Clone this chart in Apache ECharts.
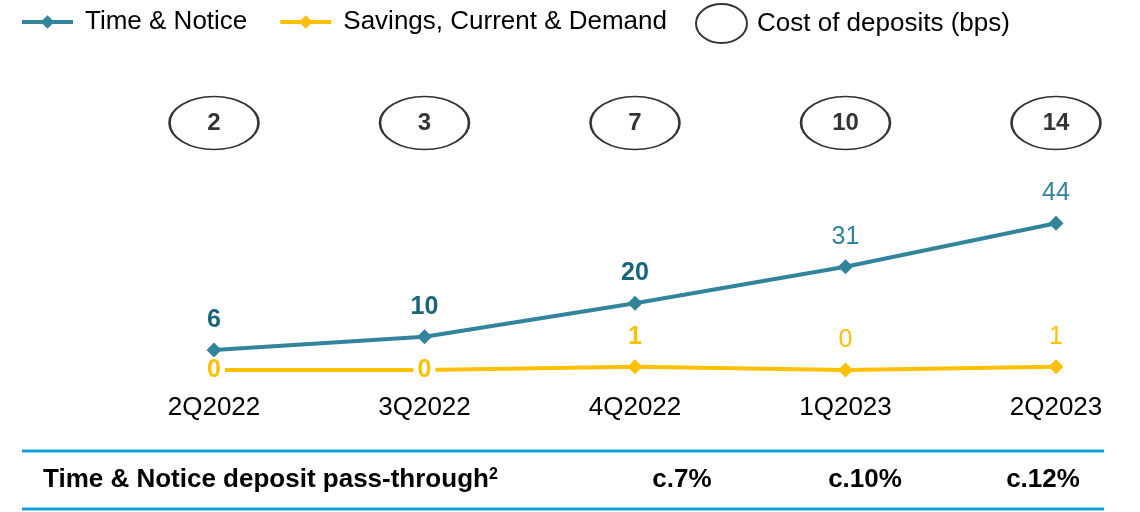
<!DOCTYPE html>
<html>
<head>
<meta charset="utf-8">
<script src="https://cdn.jsdelivr.net/npm/echarts@6/dist/echarts.min.js"></script>
<style>
  html, body { margin: 0; padding: 0; background: #fff; }
  #d_chart { width: 1140px; height: 512px; }
</style>
</head>
<body>
<div id="d_chart"></div>
<script>
// data
var quarters = ['2Q2022', '3Q2022', '4Q2022', '1Q2023', '2Q2023']
var timeNotice = [6, 10, 20, 31, 44]
var savingsCurrent = [0, 0, 1, 0, 1]
var costOfDeposits = [2, 3, 7, 10, 14]
var passThroughLabels = ['c.7%', 'c.10%', 'c.12%']

var FONT = '"Liberation Sans", Arial, sans-serif'
var TEAL = '#31849B'
var TEAL_DARK = '#17657A'
var YELLOW = '#FFC000'
var RULE = '#12A0D7'

var chart = echarts.init(document.getElementById('d_chart'))

// first three labels bold + dark, the later ones plain
var tnData = timeNotice.map(function (v, i) {
  return {
    value: v,
    label: i < 3 ? { fontWeight: 'bold', color: TEAL_DARK } : { fontWeight: 'normal', color: TEAL }
  }
})

var scData = savingsCurrent.map(function (v, i) {
  if (i < 2) {
    // label sits on the point, white box hides the marker
    return { value: v, label: { position: 'inside', fontWeight: 'bold', backgroundColor: '#fff', padding: [0, 4] } }
  }
  return { value: v, label: { position: 'top', fontWeight: i === 2 ? 'bold' : 'normal' } }
})

var costData = costOfDeposits.map(function (v, i) {
  return [i, 0, v]
})

// table row under the chart
var passX = [682, 865, 1043]
var tableGraphics = [
  { type: 'line', shape: { x1: 22, y1: 451, x2: 1104, y2: 451 }, style: { stroke: RULE, lineWidth: 3 } },
  { type: 'line', shape: { x1: 22, y1: 509, x2: 1104, y2: 509 }, style: { stroke: RULE, lineWidth: 3 } },
  {
    type: 'text', x: 43, y: 480,
    style: {
      text: 'Time & Notice deposit pass-through{s|2}',
      fontSize: 26, fontWeight: 'bold', fontFamily: FONT, fill: '#000',
      verticalAlign: 'middle',
      rich: { s: { fontSize: 16, fontWeight: 'bold', fontFamily: FONT, fill: '#000', verticalAlign: 'top' } }
    }
  }
]
passThroughLabels.forEach(function (t, i) {
  tableGraphics.push({
    type: 'text', x: passX[i], y: 480,
    style: { text: t, fontSize: 26, fontWeight: 'bold', fontFamily: FONT, fill: '#000', align: 'center', verticalAlign: 'middle' }
  })
})

var option = {
  animation: false,
  textStyle: { fontFamily: FONT },
  legend: [{
    left: 20,
    top: 9,
    padding: 0,
    itemWidth: 51,
    itemHeight: 17,
    itemGap: 31,
    data: ['Time & Notice', 'Savings, Current & Demand'],
    lineStyle: { width: 4 },
    textStyle: { fontSize: 26, color: '#000', padding: [0, 0, 0, 7] }
  }, {
    left: 695,
    top: 3,
    padding: 0,
    itemWidth: 51,
    itemHeight: 39,
    symbolKeepAspect: false,
    data: [{
      name: 'Cost of deposits (bps)',
      icon: 'path://M0,19.5 A25.5,19.5 0 1,1 51,19.5 A25.5,19.5 0 1,1 0,19.5 Z'
    }],
    textStyle: { fontSize: 26, color: '#000', padding: [0, 0, 0, 5] }
  }],
  grid: [
    { left: 214, right: 84, top: 170, height: 200 },
    { left: 214, right: 84, top: 97, height: 52 }
  ],
  xAxis: [{
    gridIndex: 0,
    type: 'category',
    data: quarters,
    boundaryGap: false,
    axisLine: { show: false },
    axisTick: { show: false },
    axisLabel: { color: '#000', fontSize: 26, margin: 25 }
  }, {
    gridIndex: 1,
    type: 'category',
    data: quarters,
    boundaryGap: false,
    show: false
  }],
  yAxis: [{
    gridIndex: 0,
    type: 'value',
    min: 0,
    max: 60,
    show: false
  }, {
    gridIndex: 1,
    type: 'category',
    data: ['bps'],
    show: false
  }],
  series: [{
    name: 'Time & Notice',
    type: 'line',
    xAxisIndex: 0,
    yAxisIndex: 0,
    symbol: 'diamond',
    symbolSize: 15,
    lineStyle: { color: TEAL, width: 4 },
    itemStyle: { color: TEAL },
    label: { show: true, position: 'top', distance: 10, fontSize: 25, fontFamily: FONT },
    emphasis: { disabled: true },
    data: tnData
  }, {
    name: 'Savings, Current & Demand',
    type: 'line',
    xAxisIndex: 0,
    yAxisIndex: 0,
    symbol: 'diamond',
    symbolSize: 15,
    lineStyle: { color: YELLOW, width: 4 },
    itemStyle: { color: YELLOW },
    label: { show: true, position: 'top', distance: 10, fontSize: 25, color: YELLOW, fontFamily: FONT },
    emphasis: { disabled: true },
    z: 3,
    data: scData
  }, {
    name: 'Cost of deposits (bps)',
    type: 'scatter',
    xAxisIndex: 1,
    yAxisIndex: 1,
    symbol: 'circle',
    symbolSize: [89, 53],
    symbolKeepAspect: false,
    itemStyle: { color: '#fff', borderColor: '#000', borderWidth: 2 },
    label: {
      show: true,
      position: 'inside',
      fontSize: 24,
      fontWeight: 'bold',
      color: '#000',
      formatter: function (p) { return p.value[2] }
    },
    emphasis: { disabled: true },
    data: costData
  }],
  graphic: tableGraphics
}

chart.setOption(option, true)
window.addEventListener('resize', function () {
  chart.resize()
})
</script>
</body>
</html>
